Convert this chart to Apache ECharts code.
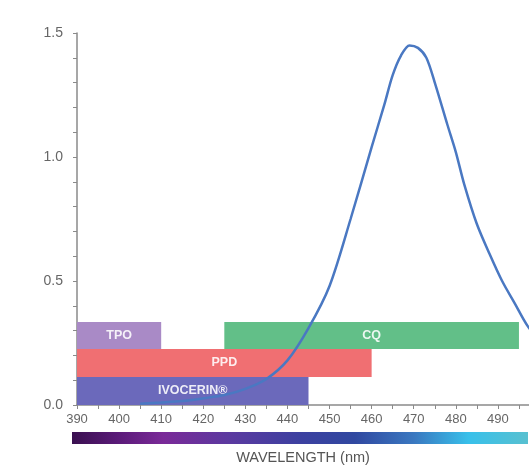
<!DOCTYPE html>
<html><head><meta charset="utf-8">
<script src="https://cdn.jsdelivr.net/npm/echarts@6/dist/echarts.min.js"></script>
<style>html,body{margin:0;padding:0;background:#fff}#c{width:529px;height:468px}</style>
</head><body><div id="c"></div>
<script>
// Absorption spectrum (wavelength nm, relative absorbance)
var curveX = [405,410,415,420,425,430,435,440,445,450,455,460,463,465,467,469,471,473,475,478,480,482,485,488,491,494,497,500];
var curveY = [0.005,0.01,0.016,0.027,0.04,0.065,0.105,0.18,0.31,0.48,0.75,1.04,1.21,1.33,1.41,1.45,1.44,1.40,1.30,1.13,1.02,0.89,0.73,0.61,0.50,0.41,0.32,0.26];
// Photoinitiator ranges
var bandNames = ['TPO','CQ','PPD','IVOCERIN®'];
var bandStart = [390,425,390,390];
var bandEnd   = [410,495,460,445];
var bandLow   = [0.226,0.226,0.113,0];
var bandHigh  = [0.335,0.335,0.226,0.113];
var bandColors = ['#a98ac6','#62bf88','#f06f72','#6b69bb'];

var chart = echarts.init(document.getElementById('c'));
var bandData = bandNames.map(function(n,i){return [bandStart[i],bandEnd[i],bandLow[i],bandHigh[i],i];});
var lineData = curveX.map(function(x,i){return [x,curveY[i]];});

chart.setOption({
  animation:false,
  backgroundColor:'#fff',
  grid:{left:77,right:-11,top:33,bottom:63,containLabel:false,outerBoundsMode:'none'},
  xAxis:{type:'value',min:390,max:500,interval:10,
    axisLine:{lineStyle:{color:'#8a8a8a',width:1.5}},
    axisTick:{show:true,length:4,lineStyle:{color:'#8a8a8a'}},
    minorTick:{show:true,splitNumber:2,length:4,lineStyle:{color:'#8a8a8a'}},
    splitLine:{show:false},
    axisLabel:{color:'#666',fontSize:13,fontFamily:'Liberation Sans, Arial',margin:8,
      formatter:function(v){return v>=500?'':String(v);}}
  },
  yAxis:{type:'value',min:0,max:1.5,interval:0.5,
    axisLine:{show:true,lineStyle:{color:'#8a8a8a',width:1.5}},
    axisTick:{show:true,length:4,lineStyle:{color:'#8a8a8a'}},
    minorTick:{show:true,splitNumber:5,length:4,lineStyle:{color:'#8a8a8a'}},
    splitLine:{show:false},
    axisLabel:{color:'#666',fontSize:14,fontFamily:'Liberation Sans, Arial',margin:14,
      formatter:function(v){return v.toFixed(1);}}
  },
  series:[
    {type:'custom',data:bandData,z:2,
      renderItem:function(params,api){
        var p0=api.coord([api.value(0),api.value(3)]);
        var p1=api.coord([api.value(1),api.value(2)]);
        var i=api.value(4);
        return {type:'group',children:[
          {type:'rect',shape:{x:p0[0],y:p0[1],width:p1[0]-p0[0],height:p1[1]-p0[1]},
           style:{fill:bandColors[i]}},
          {type:'text',style:{text:bandNames[i],x:(p0[0]+p1[0])/2,y:(p0[1]+p1[1])/2,
            align:'center',verticalAlign:'middle',fill:'rgba(255,255,255,0.88)',fontSize:12.5,fontWeight:'bold',
            fontFamily:'Liberation Sans, Arial'}}
        ]};
      }
    },
    {type:'line',data:lineData,z:5,smooth:0.3,showSymbol:false,
      lineStyle:{color:'#4a78c2',width:2.5}}
  ],
  graphic:[
    {type:'rect',shape:{x:72,y:432,width:456,height:12},
      style:{fill:new echarts.graphic.LinearGradient(0,0,1,0,[
        {offset:0,color:'#3a1050'},{offset:0.1,color:'#5a1a78'},{offset:0.2,color:'#7a2a98'},
        {offset:0.35,color:'#5a3aa0'},{offset:0.5,color:'#3c40a0'},{offset:0.62,color:'#3048a0'},
        {offset:0.75,color:'#3a78c0'},{offset:0.87,color:'#38c0ea'},{offset:1,color:'#58c0d0'}])}},
    {type:'text',style:{text:'WAVELENGTH (nm)',x:303,y:458,align:'center',verticalAlign:'middle',
      fill:'#555',fontSize:14.5,fontFamily:'Liberation Sans, Arial'}}
  ]
});
</script></body></html>
